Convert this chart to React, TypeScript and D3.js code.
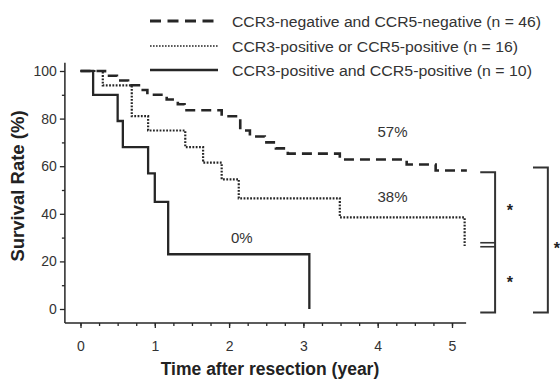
import React, { useEffect, useRef } from 'react';
import * as d3 from 'd3';

// Kaplan-Meier steps: time (years) where the curve drops, and survival (%) after the drop
const negTimes = [0, 0.33, 0.49, 0.64, 0.81, 0.9, 1.16, 1.31, 1.4, 1.9, 2.15, 2.28, 2.48, 2.63, 2.79, 3.49, 4.39, 4.78, 5.2];
const negValues = [100, 98, 96, 94, 92, 90, 88, 86, 83.5, 81, 75, 72.5, 70, 67.5, 65.3, 62.8, 60.7, 58.2, 58.2];

const orTimes = [0, 0.3, 0.69, 0.91, 1.41, 1.65, 1.9, 2.13, 3.49, 5.17];
const orValues = [100, 94, 81, 75, 68, 61.5, 54.5, 46.5, 38.5, 26.5];

const andTimes = [0, 0.17, 0.5, 0.57, 0.91, 1.0, 1.18, 3.08];
const andValues = [100, 90, 79, 68, 57, 45, 23, 0];

const legendLabels = [
  'CCR3-negative and CCR5-negative (n = 46)',
  'CCR3-positive or CCR5-positive (n = 16)',
  'CCR3-positive and CCR5-positive (n = 10)',
];
const legendWidths = [309, 286, 300];

const xTicks = [0, 1, 2, 3, 4, 5];
const yTicks = [0, 20, 40, 60, 80, 100];

// end-of-follow-up survival labels
const pctLabels = ['57%', '38%', '0%'];
const pctTimes = [4.2, 4.2, 2.17];
const pctValues = [74.5, 47, 29.8];

const FONT = '"Liberation Sans", Arial, Helvetica, sans-serif';
const INK = '#262626';

const W = 560;
const H = 381;

const App = () => {
  const xAxisRef = useRef<SVGGElement>(null);
  const xMinorRef = useRef<SVGGElement>(null);
  const yAxisRef = useRef<SVGGElement>(null);
  const yMinorRef = useRef<SVGGElement>(null);

  const x = d3.scaleLinear().domain([0, 5]).range([80.5, 452]);
  const y = d3.scaleLinear().domain([0, 100]).range([309, 71]);

  const axisX0 = x(-0.21);
  const axisY0 = 323;

  const line = d3
    .line<[number, number]>()
    .x(d => x(d[0]))
    .y(d => y(d[1]))
    .curve(d3.curveStepAfter);

  const toPts = (ts: number[], vs: number[]) => ts.map((t, i) => [t, vs[i]] as [number, number]);

  useEffect(() => {
    const styleAxis = (g: d3.Selection<SVGGElement, unknown, null, undefined>) => {
      g.select('.domain').remove();
      g.selectAll('line').attr('stroke', INK).attr('stroke-width', 1.3);
      g.selectAll('text')
        .attr('font-family', FONT)
        .attr('font-size', 14)
        .attr('fill', '#333');
    };

    d3.select(xAxisRef.current!)
      .call(d3.axisBottom(x).tickValues(xTicks).tickSize(5).tickPadding(13).tickFormat(d3.format('d')))
      .call(styleAxis);
    d3.select(xMinorRef.current!)
      .call(d3.axisBottom(x).tickValues(d3.range(0, 5.01, 0.25)).tickSize(3).tickFormat(() => ''))
      .call(styleAxis);
    d3.select(yAxisRef.current!)
      .call(d3.axisLeft(y).tickValues(yTicks).tickSize(5).tickPadding(3).tickFormat(d3.format('d')))
      .call(styleAxis);
    d3.select(yMinorRef.current!)
      .call(d3.axisLeft(y).tickValues(d3.range(10, 100, 20)).tickSize(3).tickFormat(() => ''))
      .call(styleAxis);
  }, []);

  const legendY = [21, 46, 70];
  const legendDash = ['11,6.5', '1.6,1.4', 'none'];
  const legendStroke = [3, 1.6, 2.4];

  // comparison brackets (times beyond the axis, survival levels at the curve ends)
  const innerX = [x(5.38), x(5.58)];
  const innerV = [57.5, 27, -1.5];
  const outerX = [x(6.09), x(6.29)];
  const outerV = [59.5, -1.5];

  return (
    <svg width={W} height={H} style={{ position: 'absolute', left: 0, top: 0, background: '#fff' }}>
      {/* legend */}
      {legendLabels.map((lab, i) => (
        <g key={lab}>
          <line
            x1={150}
            x2={218}
            y1={legendY[i]}
            y2={legendY[i]}
            stroke={INK}
            strokeWidth={legendStroke[i]}
            strokeDasharray={legendDash[i]}
          />
          <text
            x={232}
            y={legendY[i] + 5.5}
            fontFamily={FONT}
            fontSize={15.5}
            fill="#333"
            textLength={legendWidths[i]}
            lengthAdjust="spacingAndGlyphs"
          >
            {lab}
          </text>
        </g>
      ))}

      {/* axes */}
      <line x1={axisX0} x2={axisX0} y1={y(103.5)} y2={axisY0} stroke={INK} strokeWidth={1.5} />
      <line x1={axisX0} x2={x(5.19)} y1={axisY0} y2={axisY0} stroke={INK} strokeWidth={1.5} />
      <g ref={xAxisRef} transform={`translate(0,${axisY0})`} />
      <g ref={xMinorRef} transform={`translate(0,${axisY0})`} />
      <g ref={yAxisRef} transform={`translate(${axisX0},0)`} />
      <g ref={yMinorRef} transform={`translate(${axisX0},0)`} />

      <text
        x={270}
        y={375}
        textAnchor="middle"
        fontFamily={FONT}
        fontWeight="bold"
        fontSize={17.5}
        fill="#222"
      >
        Time after resection (year)
      </text>
      <text
        transform={`translate(24,186) rotate(-90)`}
        textAnchor="middle"
        fontFamily={FONT}
        fontWeight="bold"
        fontSize={18.5}
        fill="#222"
      >
        Survival Rate (%)
      </text>

      {/* survival curves */}
      <path d={line(toPts(negTimes, negValues)) || ''} fill="none" stroke={INK} strokeWidth={2.6} strokeDasharray="10,6" />
      <path d={line(toPts(orTimes, orValues)) || ''} fill="none" stroke={INK} strokeWidth={2.2} strokeDasharray="1.8,1.5" />
      <path d={line(toPts(andTimes, andValues)) || ''} fill="none" stroke={INK} strokeWidth={2.3} />

      {pctLabels.map((lab, i) => (
        <text
          key={lab}
          x={x(pctTimes[i])}
          y={y(pctValues[i])}
          dy="0.35em"
          textAnchor="middle"
          fontFamily={FONT}
          fontSize={15}
          fill="#333"
        >
          {lab}
        </text>
      ))}

      {/* significance brackets */}
      <path
        d={`M${innerX[0]},${y(innerV[0])}H${innerX[1]}V${y(innerV[2])}H${innerX[0]}`}
        fill="none"
        stroke="#333"
        strokeWidth={2}
      />
      <line x1={innerX[0]} x2={innerX[1]} y1={y(innerV[1]) - 2} y2={y(innerV[1]) - 2} stroke="#333" strokeWidth={1.6} />
      <line x1={innerX[0]} x2={innerX[1]} y1={y(innerV[1]) + 2} y2={y(innerV[1]) + 2} stroke="#333" strokeWidth={1.6} />
      <path
        d={`M${outerX[0]},${y(outerV[0])}H${outerX[1]}V${y(outerV[1])}H${outerX[0]}`}
        fill="none"
        stroke="#333"
        strokeWidth={2}
      />
      {[
        [5.78, 43.7],
        [5.78, 13.4],
        [6.41, 27.7],
      ].map((s, i) => (
        <text
          key={i}
          x={x(s[0])}
          y={y(s[1])}
          dy="0.7em"
          textAnchor="middle"
          fontFamily={FONT}
          fontWeight="bold"
          fontSize={16}
          fill="#222"
        >
          *
        </text>
      ))}
    </svg>
  );
};

export default App;
